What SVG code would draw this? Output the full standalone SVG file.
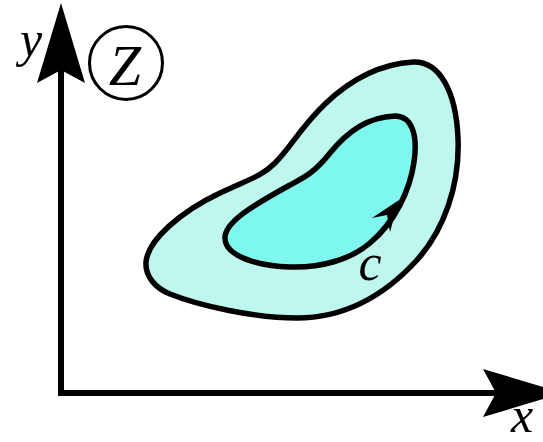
<svg xmlns="http://www.w3.org/2000/svg" width="543" height="442" viewBox="0 0 543 442">
  <style>
    .region { stroke: #000; stroke-width: 5.5; stroke-linejoin: round; }
    .outer { fill: #bef7ee; }
    .inner { fill: #7ef8ef; }
    .axis { stroke: #000; stroke-width: 6; fill: none; }
    .head { fill: #000; stroke: none; }
    .lbl { font-family: "Liberation Serif", "DejaVu Serif", serif; font-style: italic; fill: #000; text-anchor: middle; }
  </style>
  <rect width="543" height="442" fill="#fff"/>
  <g id="connectors">
    <path class="axis" d="M61,396 V70 M58,393 H497"/>
    <polygon class="head" points="61,3 85,83 61,70 37,83"/>
    <polygon class="head" points="563,393 483,369 496,393 483,417"/>
  </g>
  <g id="outer-region">
    <path class="region outer" d="M146,262 C148,240 180,212 220,193 C250,179 262,176 275,163 C292,146 300,128 325,104 C350,80 380,64 413,62 C440,61 456,92 458,138 C460,185 444,230 417,260 C385,295 345,318 297,318 C255,318 200,306 170,294 C155,288 145,276 146,262 Z"/>
  </g>
  <g id="inner-region">
    <path class="region inner" d="M225,237 C226,222 250,207 290,185 C305,177 315,172 330,153 C348,131 368,117 395,116 C412,116 418,135 414,162 C410,190 395,222 370,243 C350,260 320,268 290,267 C255,266 224,255 225,237 Z"/>
    <polygon class="head" points="399,200 372,218 387,215 390,232"/>
  </g>
  <g id="labels">
    <text class="lbl" x="31" y="56" font-size="50">y</text>
    <text class="lbl" x="522" y="432" font-size="50">x</text>
    <text class="lbl" x="370" y="280" font-size="52">c</text>
  </g>
  <g id="z-badge">
    <circle cx="126" cy="63" r="36.5" fill="none" stroke="#000" stroke-width="3"/>
    <text class="lbl" x="125" y="85" font-size="58">Z</text>
  </g>
</svg>
